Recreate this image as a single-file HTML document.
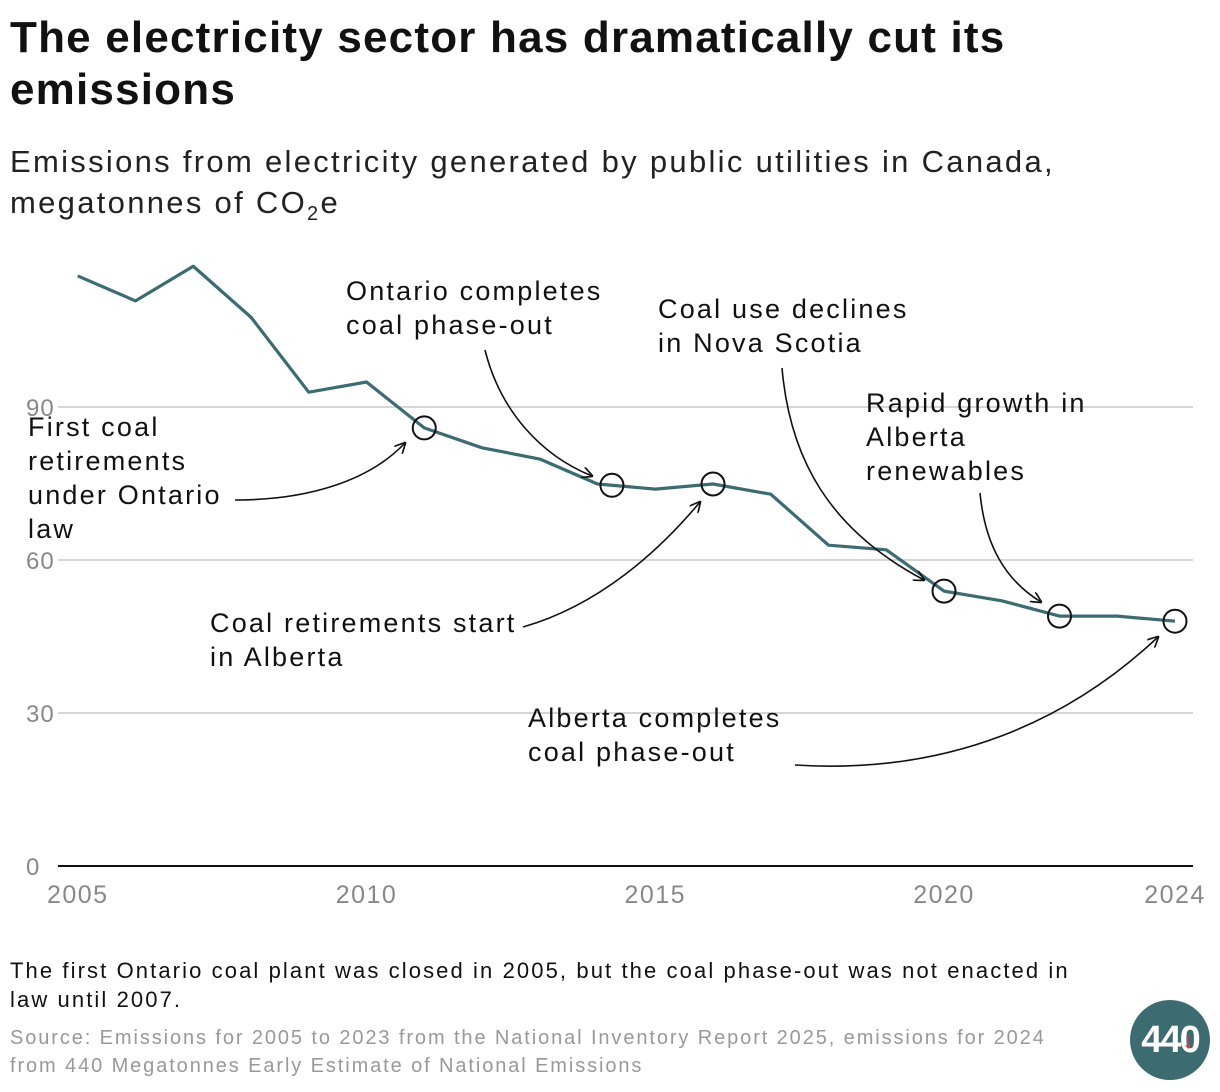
<!DOCTYPE html>
<html><head><meta charset="utf-8"><style>
body{margin:0;width:1220px;height:1092px;background:#fff;font-family:"Liberation Sans",sans-serif;color:#111;overflow:hidden;position:relative}
.t{position:absolute;margin:0}
</style></head><body>
<h1 class="t" style="left:10px;top:12px;font-size:44px;line-height:52px;font-weight:bold;letter-spacing:1.2px">The electricity sector has dramatically cut its<br>emissions</h1>
<div class="t" style="left:10px;top:141px;font-size:31px;line-height:41px;color:#222;letter-spacing:2.3px">Emissions from electricity generated by public utilities in Canada,<br>megatonnes of CO<sub style="font-size:20px">2</sub>e</div>
<svg id="chart" width="1220" height="700" style="position:absolute;left:0;top:230px" viewBox="0 230 1220 700">
<defs><marker id="ah" viewBox="0 0 10 10" refX="9" refY="5" markerWidth="7" markerHeight="7" orient="auto-start-reverse"><path d="M0,0 L10,5 L0,10" fill="none" stroke="#111" stroke-width="1.5"/></marker></defs>
<g id="grid"></g><g id="series"></g><g id="ann"></g>
</svg>
<div class="t" style="left:10px;top:956px;font-size:22px;line-height:29px;color:#111;letter-spacing:2.1px">The first Ontario coal plant was closed in 2005, but the coal phase-out was not enacted in<br>law until 2007.</div>
<div class="t" style="left:10px;top:1024px;font-size:20px;line-height:28px;color:#999;letter-spacing:1.9px">Source: Emissions for 2005 to 2023 from the National Inventory Report 2025, emissions for 2024<br>from 440 Megatonnes Early Estimate of National Emissions</div>
<div class="t" style="left:1130px;top:1000px;width:80px;height:80px;border-radius:50%;background:#3d6b72;color:#fff;font-weight:bold;font-size:38px;line-height:80px;text-align:center;letter-spacing:-2px;overflow:hidden">440</div>
<div class="t" style="left:1182px;top:1026px;color:#e8383d;font-size:24px;font-weight:bold;line-height:30px">↓</div>
<script>
const years=[2005,2006,2007,2008,2009,2010,2011,2012,2013,2014,2015,2016,2017,2018,2019,2020,2021,2022,2023,2024];
const values=[115.7,110.8,117.6,107.6,92.9,94.9,85.9,82.0,79.8,74.9,73.9,74.9,72.9,62.9,62.0,53.9,52.0,49.0,49.0,48.0];
const yTicks=[0,30,60,90];
const xTicks=[2005,2010,2015,2020,2024];
const markerYears=[2011,2014.25,2016,2020,2022,2024];
const NS="http://www.w3.org/2000/svg";
const x=y=>77.75+(y-2005)*57.75;
const yv=v=>866-v*5.1;
function val(yr){const i=Math.min(Math.floor(yr-2005),years.length-2);const f=yr-years[i];return values[i]+(values[i+1]-values[i])*f;}
function mk(tag,attrs,parent){const e=document.createElementNS(NS,tag);for(const k in attrs)e.setAttribute(k,attrs[k]);document.getElementById(parent).appendChild(e);return e;}
yTicks.forEach(t=>{
 const l=mk('line',{x1:58,x2:1193,y1:yv(t),y2:yv(t),stroke:t===0?'#111':'#c8c8c8','stroke-width':t===0?2:1.5},'grid');
 
 
 const tx=mk('text',{x:26,y:yv(t)+9,'font-size':24,fill:'#888','letter-spacing':1,'font-family':'Liberation Sans, sans-serif'},'grid');
 tx.textContent=t;
 
 
});
xTicks.forEach(t=>{
 const tx=mk('text',{x:x(t),y:903,'font-size':25,fill:'#888','text-anchor':'middle','letter-spacing':1.5,'font-family':'Liberation Sans, sans-serif'},'grid');
 tx.textContent=t;
 
 
});
const p=mk('polyline',{points:years.map((yr,i)=>x(yr)+','+yv(values[i])).join(' '),fill:'none',stroke:'#3d6b72','stroke-width':3.2,'stroke-linejoin':'round'},'series');


markerYears.forEach(yr=>{
 const c=mk('circle',{cx:x(yr),cy:yv(val(yr)),r:11.5,fill:'none',stroke:'#111','stroke-width':2},'series');
 
 
});
const arrows=[
 ['arrow-first-retirements','M235,500 C310,500 370,480 405,443'],
 ['arrow-ontario-phaseout','M485,350 C500,410 540,455 592,476'],
 ['arrow-alberta-retirements','M523,627 C600,605 660,550 700,502'],
 ['arrow-nova-scotia','M782,368 C790,460 830,530 924,580'],
 ['arrow-alberta-renewables','M980,493 C985,545 1005,580 1041,602'],
 ['arrow-alberta-phaseout','M795,765 C950,775 1070,720 1158,637']];
arrows.forEach(a=>{
 const e=mk('path',{d:a[1],fill:'none',stroke:'#111','stroke-width':1.6,'marker-end':'url(#ah)'},'ann');
 
 
});
const labels=[
 ['label-first-retirements',28,436,['First coal','retirements','under Ontario','law']],
 ['label-ontario-phaseout',346,300,['Ontario completes','coal phase-out']],
 ['label-nova-scotia',658,318,['Coal use declines','in Nova Scotia']],
 ['label-alberta-renewables',866,412,['Rapid growth in','Alberta','renewables']],
 ['label-alberta-retirements',210,632,['Coal retirements start','in Alberta']],
 ['label-alberta-phaseout',528,727,['Alberta completes','coal phase-out']]];
labels.forEach(l=>{
 l[3].forEach((s,i)=>{
  const t=mk('text',{x:l[1],y:l[2]+i*34,'font-size':27,fill:'#111','letter-spacing':2.2,'font-family':'Liberation Sans, sans-serif'},'ann');
  t.textContent=s;
  
  
 });
});
</script>
</body></html>
